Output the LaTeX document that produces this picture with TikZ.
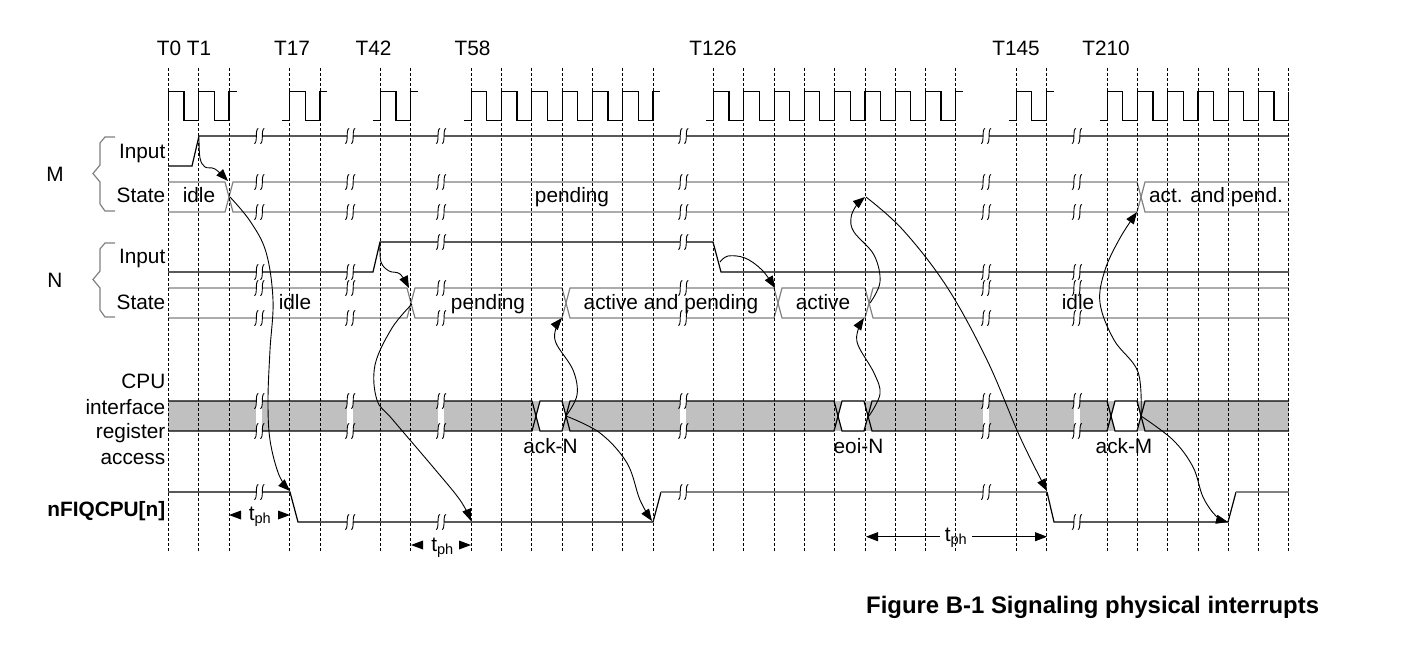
\documentclass[tikz,border=0pt]{standalone}
\usepackage{fontspec}
\setmainfont{Liberation Sans}
\usetikzlibrary{arrows.meta}
\definecolor{stgray}{HTML}{808080}
\definecolor{busgray}{HTML}{C0C0C0}
\newcommand\gx[1]{168.5+30.28*(#1)}
\newcommand\brkmark[2]{%
  \fill[white] (#1-3,#2-7) rectangle (#1+3,#2+7);
  \draw[line width=0.9pt] (#1-5,#2+7.5) .. controls (#1-3.3,#2+7.8) and (#1-3,#2+3) .. (#1-3,#2) .. controls (#1-3,#2-3) and (#1-2.7,#2-7.8) .. (#1-1,#2-7.5);
  \draw[line width=0.9pt] (#1+1,#2+7.5) .. controls (#1+2.7,#2+7.8) and (#1+3,#2+3) .. (#1+3,#2) .. controls (#1+3,#2-3) and (#1+3.3,#2-7.8) .. (#1+5,#2-7.5);
}
\begin{document}
\begin{tikzpicture}[x=1pt,y=-1pt,
  sig/.style={line width=1.2pt},
  stl/.style={line width=1.2pt, draw=stgray},
  gridl/.style={line width=0.8pt, dash pattern=on 2.5pt off 2.5pt},
  conn/.style={line width=0.9pt, -{Triangle[length=12pt,width=9pt]}},
  lbl/.style={font=\fontsize{20.8}{25}\selectfont, inner sep=0pt, anchor=base},
  rlbl/.style={lbl, anchor=base east},
  brace/.style={line width=1.2pt, draw=stgray}
]
\useasboundingbox (0,0) rectangle (1402,657);

% ---------- CPU interface bus fill ----------
\fill[busgray] (168,401) rectangle (1289,431);
\fill[white] (536,416) -- (540,401) -- (562,401) -- (566,416) -- (562,431) -- (540,431) -- cycle;
\fill[white] (838,416) -- (842,401) -- (864,401) -- (868,416) -- (864,431) -- (842,431) -- cycle;
\fill[white] (1111,416) -- (1115,401) -- (1137,401) -- (1141,416) -- (1137,431) -- (1115,431) -- cycle;
\draw[sig] (168,401) -- (532,401) -- (540,431) -- (562,431) -- (570,401) -- (834,401) -- (842,431) -- (864,431) -- (872,401) -- (1107,401) -- (1115,431) -- (1137,431) -- (1145,401) -- (1289,401);
\draw[sig] (168,431) -- (532,431) -- (540,401) -- (562,401) -- (570,431) -- (834,431) -- (842,401) -- (864,401) -- (872,431) -- (1107,431) -- (1115,401) -- (1137,401) -- (1145,431) -- (1289,431);

% ---------- clock ----------
\draw[sig] ({\gx{0}},120.7) \foreach \k in {0,1} { -- ({\gx{\k}},120.7) -- ++(0,-29) -- ++(15.5,0) -- ++(0,29) } -- ({\gx{2}},120.7) -- ++(0,-29) -- ++(7.5,0);
\draw[sig] ({\gx{4}-7.5},120.7) \foreach \k in {4} { -- ({\gx{\k}},120.7) -- ++(0,-29) -- ++(15.5,0) -- ++(0,29) } -- ({\gx{5}},120.7) -- ++(0,-29) -- ++(7.5,0);
\draw[sig] ({\gx{7}-7.5},120.7) \foreach \k in {7} { -- ({\gx{\k}},120.7) -- ++(0,-29) -- ++(15.5,0) -- ++(0,29) } -- ({\gx{8}},120.7) -- ++(0,-29) -- ++(7.5,0);
\draw[sig] ({\gx{10}-7.5},120.7) \foreach \k in {10,...,15} { -- ({\gx{\k}},120.7) -- ++(0,-29) -- ++(15.5,0) -- ++(0,29) } -- ({\gx{16}},120.7) -- ++(0,-29) -- ++(7.5,0);
\draw[sig] ({\gx{18}-7.5},120.7) \foreach \k in {18,...,25} { -- ({\gx{\k}},120.7) -- ++(0,-29) -- ++(15.5,0) -- ++(0,29) } -- ({\gx{26}},120.7) -- ++(0,-29) -- ++(7.5,0);
\draw[sig] ({\gx{28}-7.5},120.7) \foreach \k in {28} { -- ({\gx{\k}},120.7) -- ++(0,-29) -- ++(15.5,0) -- ++(0,29) } -- ({\gx{29}},120.7) -- ++(0,-29) -- ++(7.5,0);
\draw[sig] ({\gx{31}-7.5},120.7) \foreach \k in {31,...,36} { -- ({\gx{\k}},120.7) -- ++(0,-29) -- ++(15.5,0) -- ++(0,29) } -- ({\gx{37}},120.7) -- ++(0,-29);

% ---------- M ----------
\draw[sig] (168,166) -- (192,166) -- (199,136) -- (1289,136);
\draw[stl] (168,182) -- (225,182) -- (233,212) -- (1137,212) -- (1145,182) -- (1289,182);
\draw[stl] (168,212) -- (225,212) -- (233,182) -- (1137,182) -- (1145,212) -- (1289,212);

% ---------- N ----------
\draw[sig] (168,272) -- (373,272) -- (380,242) -- (713,242) -- (721,272) -- (1289,272);
\draw[stl] (168,288) -- (407,288) -- (415,318) -- (562,318) -- (570,288) -- (774,288) -- (782,318) -- (865,318) -- (873,288) -- (1289,288);
\draw[stl] (168,318) -- (407,318) -- (415,288) -- (562,288) -- (570,318) -- (774,318) -- (782,288) -- (865,288) -- (873,318) -- (1289,318);

% ---------- nFIQCPU ----------
\draw[sig] (168,492) -- (290,492) -- (298,522) -- (653,522) -- (661,492);
\draw[sig,draw=stgray] (661,492) -- (1047,492);
\draw[sig] (1047,492) -- (1054,522) -- (1228,522) -- (1236,492);
\draw[sig,draw=stgray] (1236,492) -- (1289,492);

% ---------- breaks ----------
\foreach \k/\yn/\yf in {3/272/492, 6/272/522, 9/242/522, 17/242/492, 27/272/492, 30/272/522} {
  \pgfmathsetmacro\bx{168.5+30.28*\k}
  \fill[white] (\bx-3,401) rectangle (\bx+3,431);
  \brkmark{\bx}{136}
  \brkmark{\bx}{182}
  \brkmark{\bx}{212}
  \brkmark{\bx}{\yn}
  \brkmark{\bx}{288}
  \brkmark{\bx}{318}
  \brkmark{\bx}{401}
  \brkmark{\bx}{431}
  \brkmark{\bx}{\yf}
}

% ---------- grid ----------
\foreach \k in {0,1,2,4,5,7,8,10,11,...,16,18,19,...,26,28,29,31,32,...,37}
  \draw[gridl] ({\gx{\k}},68) -- ({\gx{\k}},552);

% ---------- braces ----------
\draw[brace] (115,137) -- (105,137) -- (100,143) -- (100,165) -- (93,173.5) -- (100,182) -- (100,204) -- (105,211) -- (115,211);
\draw[brace] (115,243) -- (105,243) -- (100,249) -- (100,271) -- (93,279.5) -- (100,288) -- (100,310) -- (105,317) -- (115,317);

% ---------- labels ----------
\node[lbl] (tT0) at (169,55) {T0};
\node[lbl] (tT1) at (199,55) {T1};
\node[lbl] (tT17) at (292,55) {T17};
\node[lbl] (tT42) at (373.5,55) {T42};
\node[lbl] (tT58) at (472.5,55) {T58};
\node[lbl] (tT126) at (713,55) {T126};
\node[lbl] (tT145) at (1016,55) {T145};
\node[lbl] (tT210) at (1106,55) {T210};

\node[lbl] (lM) at (55,181) {M};
\node[lbl] (lN) at (55,287) {N};
\node[rlbl] (lMin) at (165.5,158.3) {Input};
\node[rlbl] (lMst) at (165.5,202.5) {State};
\node[rlbl] (lNin) at (165.5,263.3) {Input};
\node[rlbl] (lNst) at (165.5,309) {State};
\node[rlbl] (lcpu1) at (165.5,388) {CPU};
\node[rlbl] (lcpu2) at (165.5,414) {interface};
\node[rlbl] (lcpu3) at (165.5,438.5) {register};
\node[rlbl] (lcpu4) at (165.5,464) {access};
\node[rlbl,font=\bfseries\fontsize{20.8}{25}\selectfont] (lfiq) at (165.5,516) {nFIQCPU[n]};

\node[lbl] (sMidle) at (199,202.5) {idle};
\node[lbl] (sMpend) at (572,202.5) {pending};
\node[lbl] (sMap) at (1216,202.5) {act. and pend.};
\node[lbl] (sNidle1) at (295,309) {idle};
\node[lbl] (sNpend) at (488,309) {pending};
\node[lbl] (sNap) at (671,309) {active and pending};
\node[lbl] (sNact) at (823,309) {active};
\node[lbl] (sNidle2) at (1078,309) {idle};

\node[lbl] (ackN) at (550.5,453.3) {ack-N};
\node[lbl] (eoiN) at (858.5,453.3) {eoi-N};
\node[lbl] (ackM) at (1124,453.3) {ack-M};

% t_ph markers
\fill (229,515) -- (241,510.5) -- (241,519.5) -- cycle;
\fill (290,515) -- (278,510.5) -- (278,519.5) -- cycle;
\node[lbl] (tph1) at (260,520.5) {t\textsubscript{ph}};
\fill (411,545) -- (423,540.5) -- (423,549.5) -- cycle;
\fill (471,545) -- (459,540.5) -- (459,549.5) -- cycle;
\node[lbl] (tph2) at (442.5,551.5) {t\textsubscript{ph}};
\node[lbl] (tph3) at (956,541.5) {t\textsubscript{ph}};
\coordinate (tl) at (866,536.7);
\coordinate (tr) at (1047,536.7);
\draw[conn] (940,536.7) -- (tl);
\draw[conn] (972,536.7) -- (tr);

\node[font=\bfseries\fontsize{23.9}{28}\selectfont, inner sep=0pt, anchor=base west] (cap) at (866,613.3) {Figure B-1 Signaling physical interrupts};

% ---------- causality arrows ----------
\draw[conn] plot[smooth,tension=0.6] coordinates {(199,138) (200,158) (205,167) (215,169) (228,181)};
\draw[conn] plot[smooth,tension=0.6] coordinates {(230,197) (250,221) (266,252) (273,300) (270,350) (268,400) (270,440) (279,475) (290,491)};
\draw[conn] plot[smooth,tension=0.6] coordinates {(380,243) (381,262) (389,271) (400,274) (409,288)};
\draw[conn] plot[smooth,tension=0.6] coordinates {(412,304) (392,328) (375,365) (377,400) (393,420) (433,467) (460,500) (471,521)};
\draw[conn] plot[smooth,tension=0.6] coordinates {(566,416) (577,395) (573,370) (556,343) (556,328) (562,318)};
\draw[conn] plot[smooth,tension=0.6] coordinates {(566,416) (600,433) (627,463) (640,500) (652,521)};
\draw[conn] plot[smooth,tension=0.6] coordinates {(720,262) (728,256) (745,258) (762,270) (775,288)};
\draw[conn] plot[smooth,tension=0.6] coordinates {(869,416) (880,394) (874,373) (858,345) (858,330) (864,318)};
\draw[conn] plot[smooth,tension=0.6] coordinates {(870,303) (880,282) (874,255) (854,232) (851,218) (856,206) (865,197)};
\draw[conn] plot[smooth,tension=0.6] coordinates {(866,197) (903,230) (947,287) (987,360) (1020,437) (1047,491)};
\draw[conn] plot[smooth,tension=0.6] coordinates {(1141,416) (1138,372) (1114,340) (1100,303) (1105,270) (1120,238) (1137,212)};
\draw[conn] plot[smooth,tension=0.6] coordinates {(1141,416) (1173,440) (1193,467) (1203,497) (1216,516) (1228,522)};
\end{tikzpicture}
\end{document}
